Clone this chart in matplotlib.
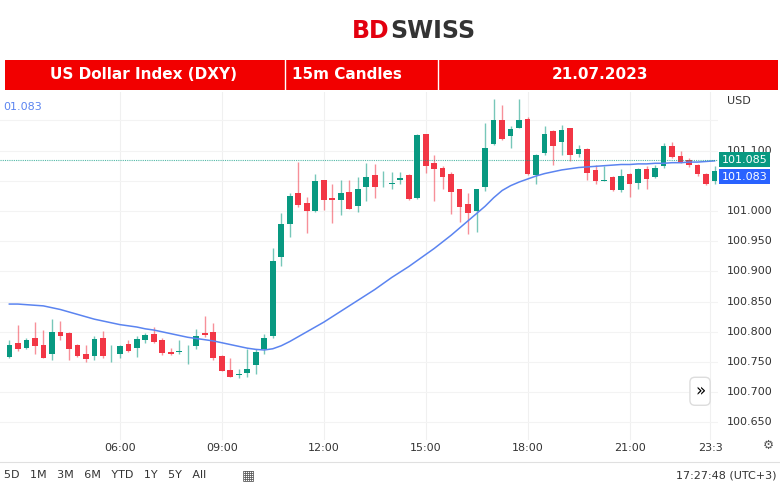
import numpy as np
import matplotlib.pyplot as plt
from matplotlib.patches import Rectangle

# 15m candles, 21.07.2023, first candle 02:45
opens = [100.758, 100.782, 100.774, 100.789, 100.779, 100.763, 100.799, 100.798, 100.778, 100.764,
         100.760, 100.790, 100.763, 100.763, 100.780, 100.774, 100.787, 100.796, 100.787, 100.766,
         100.766, 100.771, 100.776, 100.798, 100.800, 100.760, 100.737, 100.729, 100.732, 100.745,
         100.772, 100.793, 100.924, 100.978, 101.030, 101.013, 101.000, 101.051, 101.021, 101.018,
         101.031, 101.009, 101.039, 101.059, 101.041, 101.045, 101.051, 101.060, 101.022, 101.127,
         101.079, 101.072, 101.062, 101.036, 101.011, 101.000, 101.039, 101.111, 101.151, 101.124,
         101.138, 101.153, 101.059, 101.096, 101.132, 101.114, 101.137, 101.094, 101.103, 101.068,
         101.050, 101.056, 101.034, 101.062, 101.047, 101.069, 101.056, 101.074, 101.107, 101.091,
         101.084, 101.076, 101.062, 101.050]
highs = [100.786, 100.811, 100.789, 100.816, 100.803, 100.822, 100.818, 100.800, 100.780, 100.778,
         100.793, 100.801, 100.778, 100.778, 100.787, 100.793, 100.798, 100.808, 100.789, 100.774,
         100.786, 100.778, 100.804, 100.826, 100.814, 100.761, 100.756, 100.739, 100.771, 100.772,
         100.796, 100.939, 100.996, 101.030, 101.081, 101.023, 101.061, 101.052, 101.045, 101.051,
         101.052, 101.056, 101.080, 101.077, 101.066, 101.065, 101.065, 101.062, 101.128, 101.128,
         101.092, 101.074, 101.065, 101.037, 101.030, 101.037, 101.145, 101.186, 101.175, 101.140,
         101.186, 101.156, 101.095, 101.140, 101.134, 101.142, 101.138, 101.109, 101.105, 101.076,
         101.074, 101.058, 101.070, 101.063, 101.072, 101.074, 101.076, 101.113, 101.115, 101.099,
         101.087, 101.077, 101.063, 101.074]
lows = [100.756, 100.769, 100.771, 100.764, 100.756, 100.754, 100.786, 100.754, 100.759, 100.750,
        100.754, 100.756, 100.750, 100.756, 100.767, 100.758, 100.782, 100.782, 100.761, 100.761,
        100.764, 100.746, 100.772, 100.792, 100.754, 100.735, 100.725, 100.724, 100.725, 100.730,
        100.763, 100.790, 100.909, 100.957, 101.007, 100.964, 100.999, 101.001, 100.981, 100.993,
        101.003, 100.999, 101.017, 101.022, 101.040, 101.036, 101.044, 101.018, 101.020, 101.063,
        101.017, 101.036, 100.995, 100.982, 100.962, 100.965, 101.033, 101.109, 101.117, 101.105,
        101.137, 101.059, 101.044, 101.093, 101.076, 101.092, 101.083, 101.090, 101.052, 101.045,
        101.050, 101.033, 101.032, 101.023, 101.036, 101.036, 101.054, 101.072, 101.087, 101.079,
        101.073, 101.058, 101.043, 101.045]
closes = [100.778, 100.772, 100.786, 100.776, 100.757, 100.800, 100.793, 100.772, 100.760, 100.755,
          100.788, 100.760, 100.764, 100.776, 100.769, 100.788, 100.794, 100.783, 100.765, 100.763,
          100.768, 100.772, 100.793, 100.795, 100.756, 100.736, 100.726, 100.730, 100.739, 100.767,
          100.790, 100.917, 100.978, 101.025, 101.010, 101.000, 101.049, 101.018, 101.018, 101.029,
          101.004, 101.036, 101.056, 101.040, 101.042, 101.046, 101.055, 101.020, 101.125, 101.074,
          101.069, 101.056, 101.031, 101.006, 100.996, 101.036, 101.105, 101.151, 101.119, 101.135,
          101.151, 101.061, 101.093, 101.127, 101.108, 101.134, 101.092, 101.103, 101.063, 101.050,
          101.051, 101.034, 101.058, 101.044, 101.069, 101.053, 101.072, 101.108, 101.090, 101.080,
          101.076, 101.061, 101.044, 101.067]
ma = [100.846, 100.846, 100.845, 100.844, 100.843, 100.840, 100.837, 100.833, 100.829, 100.825,
      100.821, 100.818, 100.815, 100.812, 100.810, 100.808, 100.805, 100.803, 100.800, 100.797,
      100.794, 100.791, 100.789, 100.787, 100.785, 100.782, 100.779, 100.776, 100.773, 100.771,
      100.770, 100.772, 100.777, 100.784, 100.792, 100.800, 100.808, 100.816, 100.825, 100.834,
      100.843, 100.852, 100.861, 100.870, 100.880, 100.890, 100.899, 100.908, 100.918, 100.928,
      100.938, 100.949, 100.960, 100.972, 100.984, 100.996, 101.008, 101.022, 101.034, 101.042,
      101.048, 101.053, 101.058, 101.062, 101.065, 101.068, 101.070, 101.072, 101.073, 101.074,
      101.075, 101.076, 101.077, 101.077, 101.078, 101.078, 101.079, 101.079, 101.080, 101.080,
      101.081, 101.081, 101.082, 101.083]
time_ticks = ["06:00", "09:00", "12:00", "15:00", "18:00", "21:00", "23:3"]
tick_idx = [13, 25, 37, 49, 61, 73, 82.5]
price_ticks = [100.650, 100.700, 100.750, 100.800, 100.850, 100.900, 100.950, 101.000, 101.100]
last_price = 101.085
ma_last = 101.083

GREEN = "#089981"
RED = "#F23645"
BLUE = "#5B84F0"

fig = plt.figure(figsize=(7.8, 4.9), dpi=100)

# logo
fig.text(0.5, 0.937, "BD", color="#E3000F", fontsize=17, fontweight="bold", ha="right", va="center")
fig.text(0.5, 0.937, "SWISS", color="#333333", fontsize=17, fontweight="bold", ha="left", va="center")

# red banner
ban = fig.add_axes([0.006, 0.816, 0.992, 0.062])
ban.set_xlim(0, 780)
ban.set_ylim(0, 1)
ban.axis("off")
ban.add_patch(Rectangle((0, 0), 780, 1, color="#F20000"))
for xv in [283, 437]:
    ban.axvline(xv, color="white", lw=1)
ban.text(140, 0.5, "US Dollar Index (DXY)", color="white", fontsize=11, fontweight="bold", ha="center", va="center")
ban.text(345, 0.5, "15m Candles", color="white", fontsize=11, fontweight="bold", ha="center", va="center")
ban.text(600, 0.5, "21.07.2023", color="white", fontsize=11, fontweight="bold", ha="center", va="center")

ax = fig.add_axes([0.0, 1 - 440 / 490, 718 / 780, 348 / 490])
n = len(opens)
x = np.arange(n)
for i in x:
    col = GREEN if closes[i] >= opens[i] else RED
    ax.vlines(i, lows[i], highs[i], color=col, lw=1, alpha=0.55)
    lo, hi = sorted([opens[i], closes[i]])
    ax.add_patch(Rectangle((i - 0.33, lo), 0.66, max(hi - lo, 0.0008), color=col, lw=0))
ax.plot(x, ma, color=BLUE, lw=1.1)
ax.axhline(last_price, color=GREEN, lw=0.8, ls=(0, (1, 1)), alpha=0.7)

ax.set_xlim(-1.1, 83.4)
ax.set_ylim(100.621, 101.197)
for t in tick_idx:
    ax.axvline(t, color="#f0f0f0", lw=0.8, zorder=0)
for p in price_ticks + [101.050, 101.150]:
    ax.axhline(p, color="#f3f3f3", lw=0.8, zorder=0)
ax.set_xticks([])
ax.set_yticks([])
for s in ax.spines.values():
    s.set_visible(False)
ax.text(0.005, 0.97, "01.083", color=BLUE, fontsize=8, transform=ax.transAxes, va="top")

# right price scale
for p in price_ticks:
    ax.text(1.012, (p - 100.621) / (101.197 - 100.621), f"{p:.3f}", transform=ax.transAxes,
            fontsize=8, color="#333333", va="center", ha="left", clip_on=False)
ax.text(1.012, 0.975, "USD", transform=ax.transAxes, fontsize=8, color="#333333", va="center")
for val, col in [(last_price, GREEN), (ma_last, "#2962FF")]:
    yy = (val - 100.621) / (101.197 - 100.621)
    if val == ma_last:
        yy -= 0.045
    ax.text(1.005, yy, f"{val:.3f}", transform=ax.transAxes, fontsize=8, color="white", va="center",
            ha="left", clip_on=False,
            bbox=dict(boxstyle="square,pad=0.25", fc=col, ec="none"))
ax.text(0.975, 0.14, "»", transform=ax.transAxes, fontsize=12, ha="center", va="center",
        bbox=dict(boxstyle="round,pad=0.3", fc="white", ec="#dddddd"))

# time labels
for t, lab in zip(tick_idx, time_ticks):
    ax.text(t, 100.607, lab, fontsize=8, color="#333333", ha="center", va="center", clip_on=False)

# bottom toolbar
fig.add_artist(plt.Line2D([0, 1], [1 - 462 / 490] * 2, color="#e0e0e0", lw=0.8))
fig.text(0.005, 1 - 475 / 490, "5D   1M   3M   6M   YTD   1Y   5Y   All", fontsize=8, color="#333333", va="center")
fig.text(0.31, 1 - 475 / 490, "▦", fontsize=10, color="#555555", va="center")
fig.text(0.995, 1 - 475 / 490, "17:27:48 (UTC+3)", fontsize=8, color="#333333", va="center", ha="right")
fig.text(0.985, 1 - 445 / 490, "⚙", fontsize=9, color="#555555", va="center", ha="center")

fig.savefig("out.png", dpi=100)
